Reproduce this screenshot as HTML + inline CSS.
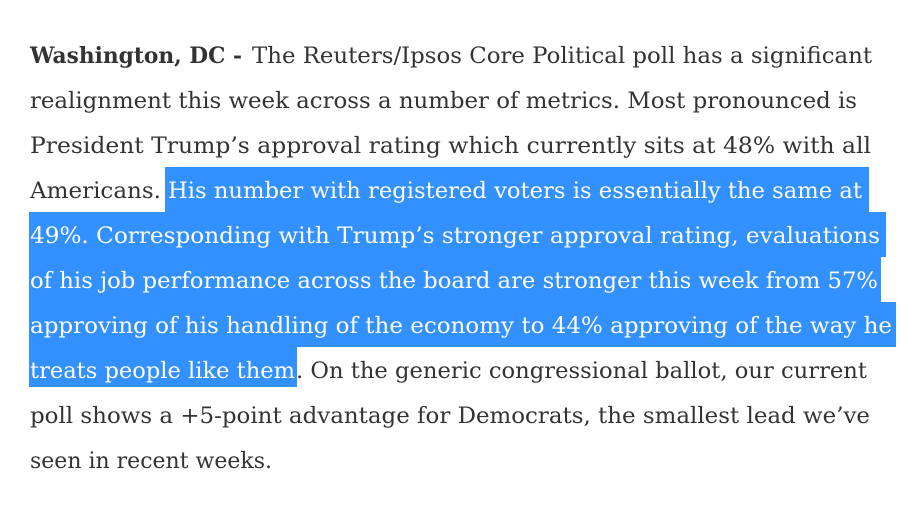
<!DOCTYPE html>
<html><head><meta charset="utf-8"><style>
html,body{margin:0;padding:0;background:#fff;width:923px;height:511px;overflow:hidden}
svg{display:block}
text{font-family:"DejaVu Serif","Liberation Serif",serif;font-size:22px;fill:#333}
.w{fill:#fff}
.b{font-weight:bold}
</style></head><body>
<svg width="923" height="511">
<g fill="#3390ff">
<rect x="165" y="167" width="704" height="45"/>
<rect x="29" y="212" width="857" height="45"/>
<rect x="29" y="257" width="852" height="45"/>
<rect x="29" y="302" width="867" height="45"/>
<rect x="29" y="347" width="268" height="40"/>
</g>
<g>
<text x="30" y="63" textLength="212" lengthAdjust="spacingAndGlyphs" class="b">Washington, DC -</text>
<text x="252" y="63" textLength="620" lengthAdjust="spacingAndGlyphs">The Reuters/Ipsos Core Political poll has a significant</text>
<text x="30" y="108" textLength="827" lengthAdjust="spacingAndGlyphs">realignment this week across a number of metrics. Most pronounced is</text>
<text x="30" y="153" textLength="841" lengthAdjust="spacingAndGlyphs">President Trump’s approval rating which currently sits at 48% with all</text>
<text x="30" y="198" textLength="131" lengthAdjust="spacingAndGlyphs">Americans.</text>
<text x="168" y="198" textLength="694" lengthAdjust="spacingAndGlyphs" class="w">His number with registered voters is essentially the same at</text>
<text x="30" y="243" textLength="850" lengthAdjust="spacingAndGlyphs" class="w">49%. Corresponding with Trump’s stronger approval rating, evaluations</text>
<text x="30" y="288" textLength="848" lengthAdjust="spacingAndGlyphs" class="w">of his job performance across the board are stronger this week from 57%</text>
<text x="30" y="333" textLength="862" lengthAdjust="spacingAndGlyphs" class="w">approving of his handling of the economy to 44% approving of the way he</text>
<text x="30" y="378" textLength="265" lengthAdjust="spacingAndGlyphs" class="w">treats people like them</text>
<text x="296" y="378" textLength="571" lengthAdjust="spacingAndGlyphs">. On the generic congressional ballot, our current</text>
<text x="30" y="423" textLength="840" lengthAdjust="spacingAndGlyphs">poll shows a +5-point advantage for Democrats, the smallest lead we’ve</text>
<text x="30" y="468" textLength="242" lengthAdjust="spacingAndGlyphs">seen in recent weeks.</text>
</g>
</svg>
</body></html>
